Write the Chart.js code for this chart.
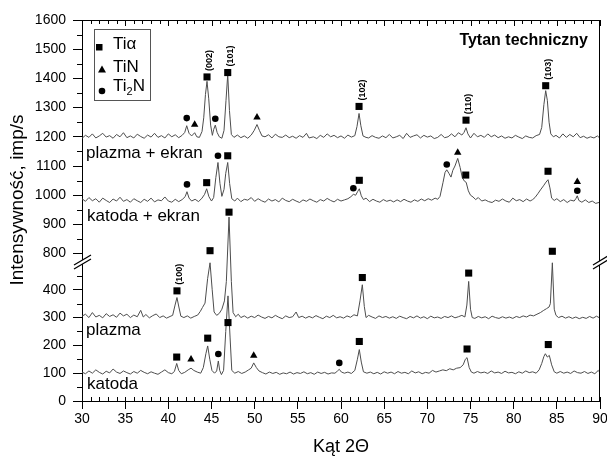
<!DOCTYPE html>
<html>
<head>
<meta charset="utf-8">
<script src="https://cdn.jsdelivr.net/npm/chart.js@4"></script>
<style>
  html, body { margin: 0; padding: 0; background: #fff; }
</style>
</head>
<body>
<canvas id="myChart" width="607" height="461"></canvas>
<script>
/* data (2theta, imp/s) */
const plazmaEkran = [[30,1195],[30.4,1205],[30.8,1198],[31.2,1210],[31.6,1196],[32,1203],[32.4,1212],[32.8,1199],[33.2,1204],[33.6,1195],[34,1208],[34.4,1200],[34.8,1214],[35.2,1197],[35.6,1203],[36,1196],[36.4,1209],[36.8,1201],[37.2,1195],[37.6,1206],[38,1199],[38.4,1212],[38.8,1198],[39.2,1204],[39.6,1196],[40,1210],[40.4,1200],[40.8,1207],[41.2,1197],[41.6,1205],[41.9,1215],[42.13,1238],[42.4,1212],[42.7,1203],[43.05,1214],[43.3,1200],[43.6,1198],[43.9,1218],[44.1,1265],[44.3,1345],[44.48,1390],[44.68,1330],[44.9,1240],[45.1,1205],[45.25,1225],[45.44,1240],[45.65,1215],[45.9,1200],[46.2,1195],[46.45,1222],[46.68,1325],[46.88,1413],[47.08,1290],[47.3,1208],[47.6,1198],[48,1206],[48.4,1197],[48.8,1203],[49.2,1195],[49.6,1206],[49.95,1222],[50.27,1242],[50.55,1222],[50.85,1203],[51.2,1200],[51.6,1207],[52,1196],[52.4,1209],[52.8,1200],[53.2,1198],[53.6,1206],[54,1197],[54.4,1202],[54.8,1195],[55.2,1204],[55.6,1198],[56,1212],[56.3,1196],[56.8,1200],[57.2,1194],[57.6,1205],[58,1198],[58.4,1210],[58.8,1200],[59.2,1205],[59.6,1197],[60,1203],[60.4,1195],[60.8,1206],[61.2,1199],[61.6,1204],[61.85,1235],[62.09,1280],[62.3,1238],[62.55,1203],[62.9,1198],[63.2,1196],[63.6,1204],[64,1198],[64.4,1195],[64.8,1203],[65.2,1197],[65.6,1208],[66,1196],[66.4,1200],[66.8,1205],[67.2,1194],[67.6,1212],[68,1198],[68.4,1203],[68.8,1207],[69.2,1196],[69.6,1205],[70,1199],[70.4,1203],[70.8,1194],[71.2,1198],[71.6,1208],[72,1197],[72.4,1200],[72.8,1210],[73.2,1200],[73.6,1214],[74,1206],[74.25,1215],[74.48,1231],[74.7,1210],[75,1196],[75.4,1212],[75.8,1200],[76.2,1205],[76.6,1198],[77,1210],[77.4,1200],[77.8,1206],[78.2,1197],[78.6,1203],[79,1195],[79.4,1200],[79.8,1196],[80.2,1205],[80.6,1199],[81,1194],[81.4,1203],[81.8,1198],[82.2,1196],[82.6,1204],[83,1208],[83.25,1232],[83.5,1310],[83.71,1358],[83.9,1325],[84.1,1250],[84.3,1210],[84.6,1200],[84.9,1205],[85.3,1196],[85.7,1210],[86.1,1198],[86.5,1208],[86.9,1200],[87.3,1212],[87.7,1197],[88.1,1202],[88.5,1195],[88.9,1200],[89.3,1196],[89.7,1203],[90,1195]];

const katodaEkran = [[30,988],[30.4,979],[30.8,992],[31.2,981],[31.6,988],[32,976],[32.4,990],[32.8,982],[33.2,975],[33.6,987],[34,980],[34.4,993],[34.8,979],[35.2,985],[35.6,976],[36,988],[36.4,981],[36.8,975],[37.2,986],[37.6,979],[38,990],[38.4,977],[38.8,984],[39.2,981],[39.6,994],[40,980],[40.4,976],[40.8,986],[41.2,978],[41.6,985],[41.95,995],[42.16,1012],[42.4,990],[42.7,980],[43.1,986],[43.5,978],[43.9,990],[44.2,1003],[44.44,1022],[44.7,995],[45,980],[45.25,992],[45.5,1060],[45.75,1112],[45.98,1040],[46.2,996],[46.45,1020],[46.65,1075],[46.88,1112],[47.1,1040],[47.35,988],[47.7,980],[48,990],[48.4,978],[48.8,986],[49.2,983],[49.6,992],[50,979],[50.4,988],[50.8,981],[51.2,976],[51.6,987],[52,980],[52.4,985],[52.8,977],[53.2,990],[53.6,982],[54,978],[54.4,986],[54.8,980],[55.2,975],[55.6,984],[56,979],[56.4,987],[56.8,981],[57.2,976],[57.6,985],[58,980],[58.4,989],[58.8,982],[59.2,977],[59.6,986],[60,980],[60.4,984],[60.8,988],[61.15,995],[61.43,1003],[61.7,1000],[61.92,1012],[62.12,1022],[62.35,998],[62.6,985],[62.9,990],[63.3,978],[63.7,986],[64.1,980],[64.5,976],[64.9,985],[65.3,979],[65.7,983],[66.1,977],[66.5,984],[66.9,978],[67.3,986],[67.7,980],[68.1,976],[68.5,984],[68.9,979],[69.3,987],[69.7,981],[70.1,988],[70.5,983],[70.9,990],[71.2,986],[71.47,996],[71.82,1044],[72.05,1078],[72.25,1087],[72.5,1075],[72.74,1062],[72.95,1085],[73.2,1100],[73.52,1126],[73.8,1095],[74.05,1060],[74.3,1048],[74.5,1044],[74.75,1015],[75,1000],[75.29,994],[75.6,985],[75.9,992],[76.3,980],[76.7,984],[77.1,978],[77.5,975],[77.9,983],[78.3,979],[78.7,987],[79.1,980],[79.5,976],[79.9,990],[80.3,981],[80.7,985],[81.1,978],[81.5,987],[81.9,980],[82.2,985],[82.47,992],[82.8,1005],[83.1,1018],[83.45,1032],[83.75,1045],[83.98,1053],[84.2,1025],[84.4,990],[84.7,982],[85,988],[85.4,978],[85.8,985],[86.2,975],[86.6,983],[87,980],[87.2,988],[87.37,998],[87.55,982],[87.9,976],[88.3,984],[88.7,975],[89.1,980],[89.5,972],[90,976]];

const plazma = [[30,305],[30.4,312],[30.8,300],[31.2,318],[31.6,302],[32,308],[32.4,299],[32.8,314],[33.2,304],[33.6,310],[34,301],[34.4,316],[34.8,306],[35.2,312],[35.6,300],[36,309],[36.4,303],[36.8,326],[37.1,302],[37.4,311],[37.8,299],[38.2,307],[38.6,313],[39,300],[39.4,306],[39.8,298],[40.2,304],[40.5,308],[40.78,345],[41,372],[41.22,338],[41.45,305],[41.8,300],[42.2,306],[42.6,298],[43,304],[43.4,309],[43.7,322],[43.95,336],[44.25,352],[44.55,440],[44.83,497],[45.08,400],[45.3,320],[45.6,308],[45.9,315],[46.2,330],[46.5,360],[46.72,430],[47.03,925],[47.3,430],[47.5,318],[47.8,303],[48.1,312],[48.4,300],[48.8,306],[49.2,298],[49.6,305],[50,300],[50.4,309],[50.8,302],[51.2,297],[51.6,304],[52,299],[52.4,308],[52.8,301],[53.2,296],[53.6,306],[54,300],[54.4,303],[54.8,320],[55.1,300],[55.5,305],[55.9,298],[56.3,304],[56.7,299],[57.1,307],[57.5,301],[57.9,296],[58.3,305],[58.7,300],[59.1,308],[59.5,299],[59.9,303],[60.3,298],[60.7,306],[61.1,301],[61.5,310],[61.9,306],[62.2,360],[62.47,418],[62.7,340],[62.9,300],[63.2,308],[63.6,302],[64,297],[64.4,306],[64.8,300],[65.2,304],[65.6,298],[66,303],[66.4,297],[66.8,305],[67.2,300],[67.6,296],[68,304],[68.4,299],[68.8,306],[69.2,298],[69.6,303],[70,296],[70.4,305],[70.8,299],[71.2,302],[71.6,297],[72,304],[72.4,300],[72.8,306],[73.2,299],[73.6,303],[74,308],[74.35,302],[74.58,345],[74.79,430],[75,330],[75.2,300],[75.5,297],[75.9,304],[76.3,299],[76.7,303],[77.1,296],[77.5,305],[77.9,300],[78.3,297],[78.7,303],[79.1,298],[79.5,302],[79.9,297],[80.3,304],[80.7,300],[81.1,306],[81.5,302],[81.9,309],[82.3,306],[82.7,312],[83.1,318],[83.43,325],[83.8,332],[84.1,338],[84.25,350],[84.48,497],[84.7,330],[84.9,308],[85.2,300],[85.6,305],[86,298],[86.4,303],[86.8,297],[87.2,302],[87.6,296],[88,301],[88.4,297],[88.8,304],[89.2,298],[89.6,305],[90,298]];

const katoda = [[30,104],[30.4,98],[30.8,108],[31.2,100],[31.6,112],[32,103],[32.4,97],[32.8,107],[33.2,101],[33.6,115],[34,104],[34.4,99],[34.8,108],[35.2,102],[35.6,97],[36,106],[36.4,100],[36.8,110],[37.2,103],[37.6,98],[38,105],[38.4,100],[38.8,96],[39.2,104],[39.6,112],[40,102],[40.4,98],[40.7,106],[40.97,135],[41.2,110],[41.5,98],[41.9,103],[42.3,112],[42.63,118],[42.95,110],[43.35,104],[43.75,100],[44.05,120],[44.35,170],[44.56,198],[44.8,150],[45.05,110],[45.35,100],[45.6,108],[45.79,144],[45.95,110],[46.15,95],[46.4,110],[46.65,250],[46.91,378],[47.15,230],[47.35,110],[47.7,100],[48.1,106],[48.5,99],[48.9,104],[49.3,112],[49.6,118],[49.89,137],[50.2,120],[50.5,108],[50.9,102],[51.3,97],[51.7,104],[52.1,99],[52.5,103],[52.9,96],[53.3,101],[53.7,98],[54.1,104],[54.5,97],[54.9,102],[55.3,99],[55.7,105],[56.1,98],[56.5,102],[56.9,96],[57.3,104],[57.7,99],[58.1,103],[58.5,97],[58.9,101],[59.3,100],[59.6,108],[59.8,114],[60.05,104],[60.4,100],[60.8,104],[61.2,99],[61.6,110],[61.9,150],[62.12,185],[62.35,140],[62.6,105],[63,100],[63.4,104],[63.8,98],[64.2,103],[64.6,97],[65,105],[65.4,100],[65.8,104],[66.2,98],[66.6,106],[67,100],[67.4,103],[67.8,98],[68.2,108],[68.6,101],[69,105],[69.4,98],[69.8,103],[70.2,100],[70.6,110],[71,104],[71.4,108],[71.8,112],[72.2,109],[72.6,116],[73,112],[73.4,118],[73.8,120],[74.15,130],[74.4,150],[74.6,156],[74.85,120],[75.1,104],[75.4,100],[75.8,106],[76.2,101],[76.6,104],[77,99],[77.4,108],[77.8,101],[78.2,104],[78.6,99],[79,107],[79.4,101],[79.8,103],[80.2,98],[80.6,105],[81,100],[81.4,108],[81.8,102],[82.2,105],[82.6,100],[82.95,112],[83.25,135],[83.5,160],[83.67,170],[83.9,158],[84.13,164],[84.4,130],[84.7,105],[85,100],[85.4,106],[85.8,100],[86.2,104],[86.6,99],[87,108],[87.4,102],[87.8,100],[88.2,106],[88.6,99],[89,104],[89.4,98],[89.8,110],[90,102]];

/* phase markers */
const tiAlpha = [[44.48,1405],[46.88,1420],[62.09,1304],[74.48,1257],[83.71,1375],
  [44.44,1043],[46.88,1135],[62.12,1051],[74.45,1069],[83.98,1082],
  [41.0,396],[44.83,810],[47.03,942],[62.47,444],[74.79,460],[84.48,808],
  [40.97,158],[44.56,226],[46.91,282],[62.12,214],[74.6,187],[84.01,203]];
const tiN = [[43.05,1242],[50.27,1267],[73.52,1146],[87.37,1046],[42.63,150],[49.89,163]];
const ti2N = [[42.13,1264],[45.44,1262],[42.16,1037],[45.75,1135],[61.43,1024],[72.25,1105],[87.37,1015],[45.79,169],[59.8,137]];

const millerLabels = [[44.48,1405,'(002)'],[46.88,1420,'(101)'],[62.09,1304,'(102)'],[74.48,1257,'(110)'],[83.71,1375,'(103)'],[41.0,396,'(100)']];

const yTickValues = [0,100,200,300,400,800,900,1000,1100,1200,1300,1400,1500,1600];
const yMinorValues = [50,150,250,350,450,850,950,1050,1150,1250,1350,1450,1550];

/* broken axis: 520..800 squeezed */
function toDisp(v) {
  if (v <= 520) return v;
  if (v >= 800) return 530 + (v - 800) * 1.05;
  return 520 + (v - 520) * 10 / 280;
}
function pts(arr) {
  return arr.map(p => ({x: p[0], y: toDisp(p[1])}));
}

const FONT = '"Liberation Sans", Arial, sans-serif';

const decor = {
  id: 'decor',
  afterDraw(chart) {
    const ctx = chart.ctx;
    const a = chart.chartArea;
    const xs = chart.scales.x, ys = chart.scales.y;
    ctx.save();
    ctx.strokeStyle = '#000';
    ctx.lineWidth = 1;
    ctx.beginPath();
    ctx.moveTo(a.left, Math.round(a.top) + 0.5); ctx.lineTo(a.right, Math.round(a.top) + 0.5);
    ctx.moveTo(Math.round(a.right) - 0.5, a.top); ctx.lineTo(Math.round(a.right) - 0.5, a.bottom);
    // ticks on top + inner ticks on bottom
    for (let d = 30; d <= 90; d++) {
      const px = Math.round(xs.getPixelForValue(d)) + 0.5;
      const big = d % 5 === 0;
      ctx.moveTo(px, a.top); ctx.lineTo(px, a.top + (big ? 6 : 4));
      ctx.moveTo(px, a.bottom); ctx.lineTo(px, a.bottom - 4);
    }
    yMinorValues.forEach(v => {
      const py = Math.round(ys.getPixelForValue(toDisp(v))) + 0.5;
      ctx.moveTo(a.left - 5, py); ctx.lineTo(a.left, py);
    });
    ctx.stroke();

    // axis break
    const yc = Math.round(ys.getPixelForValue(toDisp(500)));
    function brk(x0, x1, dy) {
      ctx.fillStyle = '#fff';
      ctx.beginPath();
      ctx.moveTo(x0, yc + 3); ctx.lineTo(x1, yc + 3 - dy);
      ctx.lineTo(x1, yc + 7 - dy); ctx.lineTo(x0, yc + 7);
      ctx.closePath(); ctx.fill();
      ctx.beginPath();
      ctx.moveTo(x0, yc + 3); ctx.lineTo(x1, yc + 3 - dy);
      ctx.moveTo(x0, yc + 7); ctx.lineTo(x1, yc + 7 - dy);
      ctx.lineWidth = 1.3; ctx.stroke();
    }
    brk(74, 91, 10);
    brk(593, 608, 9);

    // miller indices
    ctx.fillStyle = '#000';
    ctx.font = 'bold 9px ' + FONT;
    ctx.textAlign = 'left';
    ctx.textBaseline = 'middle';
    millerLabels.forEach(m => {
      const px = xs.getPixelForValue(m[0]);
      const py = ys.getPixelForValue(toDisp(m[1]));
      ctx.save();
      ctx.translate(px + 3, py - 6);
      ctx.rotate(-Math.PI / 2);
      ctx.fillText(m[2], 0, 0);
      ctx.restore();
    });

    // curve names
    ctx.font = '17px ' + FONT;
    ctx.textBaseline = 'alphabetic';
    ctx.fillText('plazma + ekran', 86, 158);
    ctx.fillText('katoda + ekran', 87, 221);
    ctx.fillText('plazma', 86, 335);
    ctx.fillText('katoda', 87, 389);

    // title
    ctx.font = 'bold 16px ' + FONT;
    ctx.textAlign = 'right';
    ctx.fillText('Tytan techniczny', 588, 45);

    // legend box
    ctx.strokeStyle = '#555';
    ctx.lineWidth = 1;
    ctx.strokeRect(94.5, 29.5, 56, 71);
    ctx.fillStyle = '#000';
    ctx.fillRect(96, 44, 6.5, 6.5);
    ctx.beginPath();
    ctx.moveTo(102, 65.5); ctx.lineTo(106, 72.5); ctx.lineTo(98, 72.5); ctx.closePath(); ctx.fill();
    ctx.beginPath(); ctx.arc(102, 91, 3.3, 0, Math.PI * 2); ctx.fill();
    ctx.font = '17px ' + FONT;
    ctx.textAlign = 'left';
    ctx.fillText('Ti\u03b1', 113, 48.5);
    ctx.fillText('TiN', 113, 72);
    ctx.fillText('Ti', 113, 90.5);
    const w = ctx.measureText('Ti').width;
    ctx.font = '11px ' + FONT;
    ctx.fillText('2', 113 + w, 95);
    const w2 = ctx.measureText('2').width;
    ctx.font = '17px ' + FONT;
    ctx.fillText('N', 113 + w + w2, 90.5);

    // axis titles
    ctx.font = '18px ' + FONT;
    ctx.textAlign = 'center';
    ctx.textBaseline = 'middle';
    ctx.fillText('K\u0105t 2\u0398', 341, 447);
    ctx.save();
    ctx.translate(18, 200);
    ctx.rotate(-Math.PI / 2);
    ctx.font = '19px ' + FONT;
    ctx.fillText('Intensywno\u015b\u0107, imp/s', 0, 0);
    ctx.restore();
    ctx.restore();
  }
};

function lineSet(arr) {
  return {
    type: 'line',
    data: pts(arr),
    borderColor: '#4d4d4d',
    borderWidth: 1,
    pointRadius: 0,
    tension: 0,
    fill: false
  };
}
function markSet(arr, style, r) {
  return {
    type: 'scatter',
    data: pts(arr),
    pointStyle: style,
    pointRadius: r,
    backgroundColor: '#000',
    borderColor: '#000',
    borderWidth: 0
  };
}

new Chart(document.getElementById('myChart'), {
  type: 'line',
  data: {
    datasets: [
      markSet(tiAlpha, 'rect', 5),
      markSet(tiN, 'triangle', 4.3),
      markSet(ti2N, 'circle', 3.3),
      lineSet(plazmaEkran),
      lineSet(katodaEkran),
      lineSet(plazma),
      lineSet(katoda)
    ]
  },
  options: {
    responsive: false,
    animation: false,
    devicePixelRatio: 1,
    layout: { padding: { top: 20, right: 7, left: 0, bottom: 0 } },
    plugins: { legend: { display: false }, tooltip: { enabled: false } },
    scales: {
      x: {
        type: 'linear', min: 30, max: 90,
        ticks: { stepSize: 5, maxRotation: 0, autoSkip: false, padding: 2, color: '#000', font: { family: FONT, size: 14 } },
        grid: { drawOnChartArea: false, color: '#000', tickLength: 8 },
        border: { color: '#000', width: 1 },
        afterFit: s => { s.height = 60; s.paddingRight = 0; s.paddingLeft = 0; }
      },
      y: {
        type: 'linear', min: 0, max: toDisp(1600),
        afterBuildTicks: s => { s.ticks = yTickValues.map(v => ({ value: toDisp(v) })); },
        ticks: { autoSkip: false, padding: 7, color: '#000', font: { family: FONT, size: 14 },
          callback: (val, i) => String(yTickValues[i]) },
        grid: { drawOnChartArea: false, color: '#000', tickLength: 9 },
        border: { color: '#000', width: 1 },
        afterFit: s => { s.width = 82; s.paddingTop = 0; s.paddingBottom = 0; }
      }
    }
  },
  plugins: [decor]
});
</script>
</body>
</html>
